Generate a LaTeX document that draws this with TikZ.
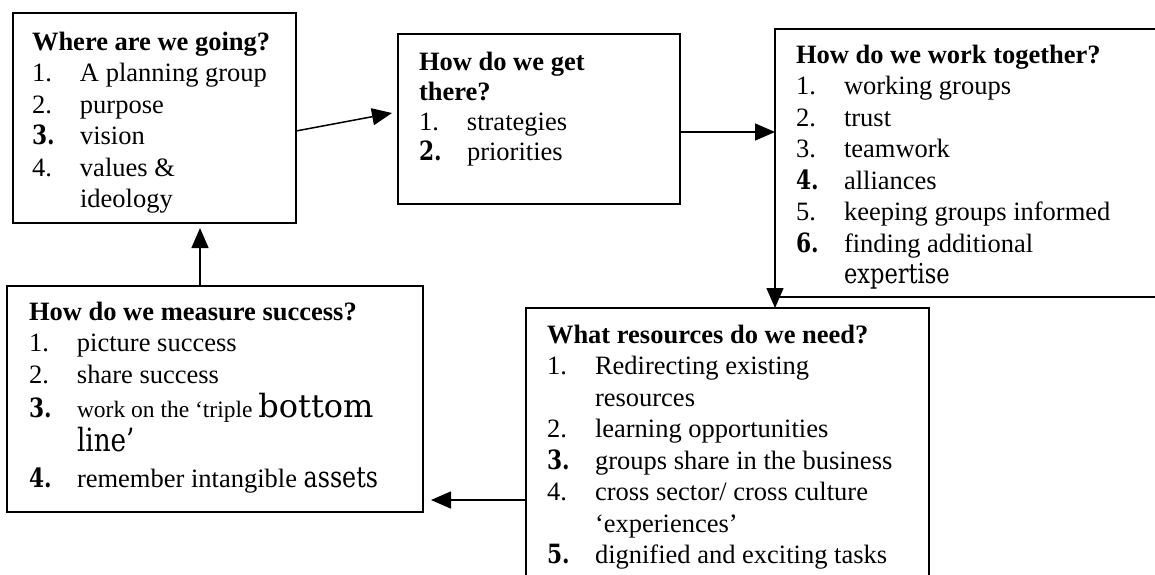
\documentclass[tikz,border=0pt]{standalone}
\usepackage{fontspec}
\setmainfont{Liberation Serif}
\newfontfamily\altf[FakeStretch=0.82,Ligatures=TeX]{DejaVu Serif}
\newfontfamily\altw[Ligatures=TeX]{DejaVu Serif}
\usetikzlibrary{arrows.meta}
\newcommand\nm[1]{\makebox[48pt][l]{#1}}
\newcommand\an[1]{\makebox[48pt][l]{\altf\bfseries #1}}
\newcommand\ind{\hspace*{48pt}}
\begin{document}
\begin{tikzpicture}[x=1pt,y=-1pt,
  box/.style={draw, line width=1.6pt, inner sep=0pt, outer sep=0pt, anchor=north west},
  txt/.style={inner sep=0pt, outer sep=0pt, anchor=base west, font=\fontsize{26.5}{31.5}\selectfont},
  arr/.style={line width=1.5pt, -{Triangle[length=20pt,width=17pt]}}]
\useasboundingbox (0,0) rectangle (1155,574);

% boxes
\node[box, minimum width=283pt, minimum height=210pt] (b1) at (13,13) {};
\node[box, minimum width=282pt, minimum height=170pt] (b2) at (398,34) {};
\node[box, minimum width=430pt, minimum height=268pt] (b3) at (775,29) {};
\node[box, minimum width=403pt, minimum height=384pt] (b4) at (526,308) {};
\node[box, minimum width=416pt, minimum height=226pt] (b5) at (7,286) {};

% texts
\node[txt] (t1) at (32,50) {\parbox[t]{300pt}{\raggedright
\textbf{Where are we going?}\\
\nm{1.}A planning group\\
\nm{2.}purpose\\
\an{3.}vision\\
\nm{4.}values \&\\
\ind ideology}};

\node[txt] (t2) at (419,70) {\parbox[t]{300pt}{\raggedright
\textbf{How do we get}\\[-1.5pt]
\textbf{there?}\\[-1.5pt]
\nm{1.}strategies\\[-1.5pt]
\an{2.}priorities}};

\node[txt] (t3) at (796,63) {\parbox[t]{400pt}{\raggedright
\textbf{How do we work together?}\\
\nm{1.}working groups\\
\nm{2.}trust\\
\nm{3.}teamwork\\
\an{4.}alliances\\
\nm{5.}keeping groups informed\\
\an{6.}finding additional\\
\ind{\altf\fontsize{27.5}{31.5}\selectfont expertise}}};

\node[txt] (t4) at (547,343) {\parbox[t]{400pt}{\raggedright
\textbf{What resources do we need?}\\
\nm{1.}Redirecting existing\\
\ind resources\\
\nm{2.}learning opportunities\\
\an{3.}groups share in the business\\
\nm{4.}cross sector/ cross culture\\
\ind `experiences'\\
\an{5.}dignified and exciting tasks}};

\node[txt] (t5) at (29,320) {\parbox[t]{420pt}{\raggedright
\textbf{How do we measure success?}\\
\nm{1.}picture success\\
\nm{2.}share success\\[3pt]
\an{3.}{\fontsize{23.5}{31.5}\selectfont work on the `triple }{\altw\fontsize{32}{31.5}\selectfont bottom}\\[2pt]
\ind{\altf\fontsize{32}{31.5}\selectfont line'}\\[5pt]
\an{4.}remember intangible {\altf\fontsize{29}{31.5}\selectfont assets}}};

% connectors
\draw[arr] ([yshift=-13pt]b1.east) -- ([xshift=-6pt,yshift=6pt]b2.west);
\draw[arr] ([yshift=-13pt]b2.east) -- ([yshift=-13pt]b2.east -| b3.west);
\draw[arr] (b3.south west) -- (b3.south west |- b4.north);
\draw[arr] (b4.west) -- ([xshift=8pt]b5.east |- b4.west);
\draw[arr] ([xshift=-15pt]b5.north) -- ([xshift=-15pt,yshift=-5pt]b5.north |- b1.south);
\end{tikzpicture}
\end{document}
